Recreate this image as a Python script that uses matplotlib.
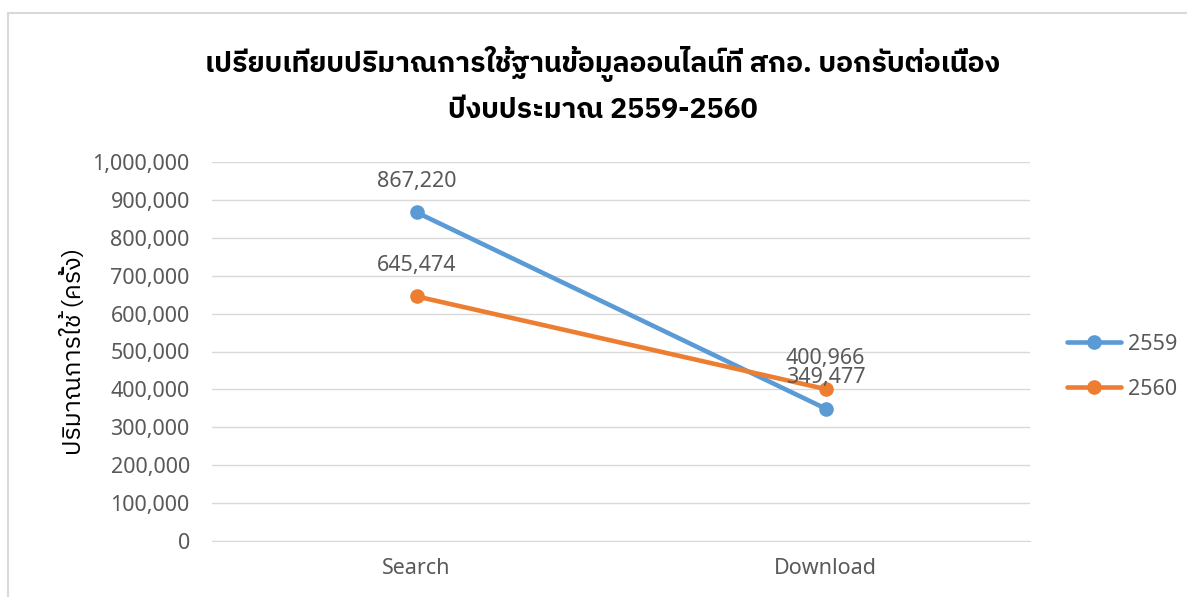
import matplotlib
matplotlib.use("Agg")
import matplotlib.pyplot as plt
from matplotlib.patches import Rectangle
from matplotlib.ticker import FuncFormatter

categories = ["Search", "Download"]
years = ["2559", "2560"]
values_2559 = [867220, 349477]
values_2560 = [645474, 400966]
colors = ["#5B9BD5", "#ED7D31"]

title = "เปรียบเทียบปริมาณการใช้ฐานข้อมูลออนไลน์ที่ สกอ. บอกรับต่อเนื่อง\nปีงบประมาณ 2559-2560"
ylabel = "ปริมาณการใช้ (ครั้ง)"

plt.rcParams['font.family'] = ['Noto Sans', 'Noto Sans Thai', 'DejaVu Sans']
text_grey = "#595959"
thai_fonts = ['IBM Plex Sans Thai', 'Noto Sans Thai', 'DejaVu Sans']

fig = plt.figure(figsize=(11.87, 5.97), dpi=100)
ax = fig.add_axes([212 / 1187, 1 - 541 / 597, (1030 - 212) / 1187, (541 - 162) / 597])

# light border around the chart area
fig.patches.append(Rectangle((8 / 1187, -0.01), 1.0, 1 - 13 / 597 + 0.01,
                             transform=fig.transFigure, fill=False,
                             edgecolor="#D9D9D9", lw=1.5))

x = list(range(len(categories)))
for name, vals, c in zip(years, [values_2559, values_2560], colors):
    ax.plot(x, vals, color=c, lw=3.3, marker="o", markersize=9.5,
            solid_capstyle="round", label=name)
    for xi, v in zip(x, vals):
        ax.annotate(f"{v:,}", (xi, v), xytext=(0, 22), textcoords="offset points",
                    ha="center", va="center", fontsize=15.5, color=text_grey)

ax.set_xlim(-0.5, 1.5)
ax.set_ylim(0, 1000000)
ax.set_yticks(range(0, 1000001, 100000))
ax.yaxis.set_major_formatter(FuncFormatter(lambda v, p: f"{int(v):,}"))
ax.set_xticks(x)
ax.set_xticklabels(categories)
ax.grid(axis="y", color="#D9D9D9", lw=1)
ax.set_axisbelow(True)
for s in ["top", "right", "left"]:
    ax.spines[s].set_visible(False)
ax.spines["bottom"].set_color("#D9D9D9")
ax.tick_params(length=0, labelsize=15.5, colors=text_grey)
ax.tick_params(axis="y", pad=16)
ax.tick_params(axis="x", pad=12)

ax.set_ylabel(ylabel, fontsize=18, color="#000000", labelpad=5, family=thai_fonts)

fig.text(0.508, 0.858, title, ha="center", va="center", fontsize=20.4,
         fontweight="bold", linespacing=1.72, family=thai_fonts)

ax.legend(loc="center left", bbox_to_anchor=(1.022, 0.46), frameon=False,
          fontsize=15.5, labelcolor=text_grey, handlelength=2.5,
          handletextpad=0.3, labelspacing=1.1)

fig.savefig("out.png", dpi=100)
